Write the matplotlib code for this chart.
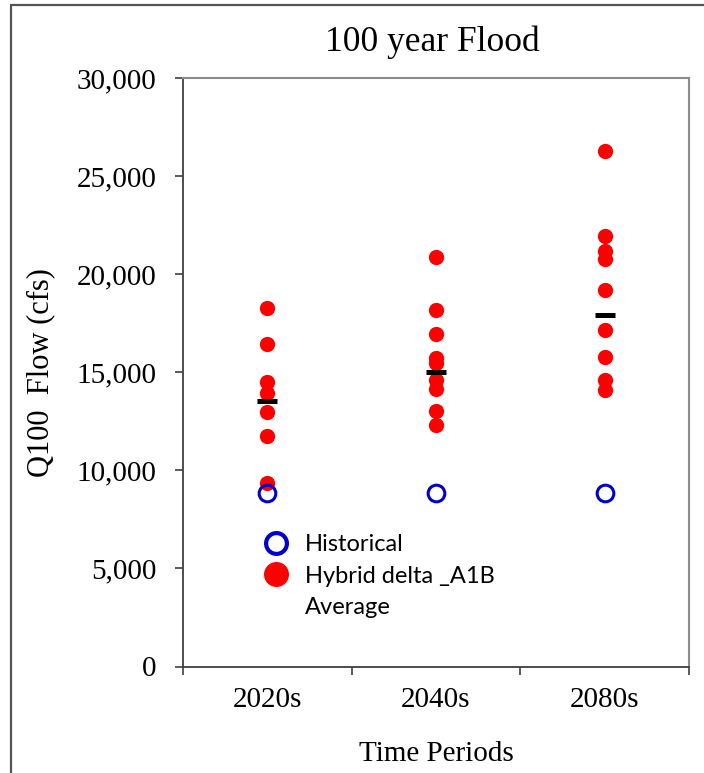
import matplotlib
matplotlib.use("Agg")
import matplotlib.pyplot as plt
from matplotlib.lines import Line2D
from matplotlib.patches import Rectangle
from matplotlib.ticker import FuncFormatter, FixedLocator

# ---------------------------------------------------------------------------
# Data
# ---------------------------------------------------------------------------
periods = ["2020s", "2040s", "2080s"]

hybrid_2020s = [18300, 16450, 14500, 13950, 12950, 11750, 9350]
hybrid_2040s = [20900, 18150, 16950, 15750, 15450, 14600, 14150, 13050, 12300]
hybrid_2080s = [26300, 21950, 21200, 20750, 19200, 17150, 15800, 14600, 14100]

historical = [8850, 8850, 8850]
averages = [13550, 15000, 17900]

y_ticks = [0, 5000, 10000, 15000, 20000, 25000, 30000]

# ---------------------------------------------------------------------------
# Figure
# ---------------------------------------------------------------------------
SERIF = "Liberation Serif"
W, H = 704, 773
fig = plt.figure(figsize=(W / 100, H / 100), dpi=100)
ax = fig.add_axes([183 / W, 1 - 666.5 / H, (689 - 183) / W, (666.5 - 78) / H])

hybrid = [hybrid_2020s, hybrid_2040s, hybrid_2080s]
for i, vals in enumerate(hybrid):
    ax.plot([i] * len(vals), vals, "o", color="#ff0000", markersize=11,
            markeredgewidth=0, zorder=3)

xs = list(range(len(periods)))
ax.plot(xs, historical, "o", markerfacecolor="none", markeredgecolor="#0000cc",
        markersize=12, markeredgewidth=2.2, zorder=4)
ax.plot(xs, averages, "_", color="black", markersize=15, markeredgewidth=3.6,
        zorder=5)

ax.set_xlim(-0.5, 2.5)
ax.set_ylim(0, 30000)

# category labels centred, tick marks between categories
ax.xaxis.set_major_locator(FixedLocator(xs))
ax.set_xticklabels(periods, fontsize=21, fontfamily=SERIF)
ax.tick_params(axis="x", which="major", length=0, pad=15)
ax.xaxis.set_minor_locator(FixedLocator([-0.5, 0.5, 1.5, 2.5]))
ax.tick_params(axis="x", which="minor", length=6, width=1.2, color="#404040",
               direction="out")

ax.set_yticks(y_ticks)
ax.yaxis.set_major_formatter(FuncFormatter(lambda v, _: f"{int(v):,}"))
ax.tick_params(axis="y", length=6, width=1.2, color="#404040", pad=13,
               labelsize=21)
for lab in ax.get_yticklabels():
    lab.set_fontfamily(SERIF)

for side in ["left", "bottom"]:
    ax.spines[side].set_color("#404040")
    ax.spines[side].set_linewidth(1.3)
for side in ["top", "right"]:
    ax.spines[side].set_color("#8c8c8c")
    ax.spines[side].set_linewidth(1.5)

ax.set_xlabel("Time Periods", fontsize=21, fontfamily=SERIF)
ax.xaxis.label.set_va("center")
ax.xaxis.set_label_coords(0.5, (666.5 - 754) / 588.5)

ax.set_ylabel("Q100  Flow (cfs)", fontsize=22, fontfamily=SERIF)
ax.yaxis.label.set_va("center")
ax.yaxis.set_label_coords((41 - 183) / 506, 0.5)

fig.text(432 / W, 1 - 42 / H, "100 year Flood", fontsize=25.5, fontfamily=SERIF,
         ha="center", va="center")

# legend (Average has no visible marker in the original)
handles = [
    Line2D([], [], linestyle="none", marker="o", markerfacecolor="none",
           markeredgecolor="#0000cc", markersize=15, markeredgewidth=3),
    Line2D([], [], linestyle="none", marker="o", color="#ff0000",
           markersize=18, markeredgewidth=0),
    Line2D([], [], linestyle="none"),
]
ax.legend(handles, ["Historical", "Hybrid delta _A1B", "Average"],
          loc="upper left", bbox_to_anchor=((264 - 183) / 506, (666.5 - 534) / 588.5),
          frameon=False, handlelength=1.0, handletextpad=0.73, labelspacing=0.45,
          borderpad=0, borderaxespad=0,
          prop={"family": "Lato", "size": 17})

# outer frame of the pasted chart
fig.add_artist(Rectangle((11 / W, -0.05), 1.1, 1 - 5 / H + 0.05,
                         transform=fig.transFigure, fill=False,
                         edgecolor="#555555", linewidth=1.6))

fig.savefig("out.png", dpi=100)
